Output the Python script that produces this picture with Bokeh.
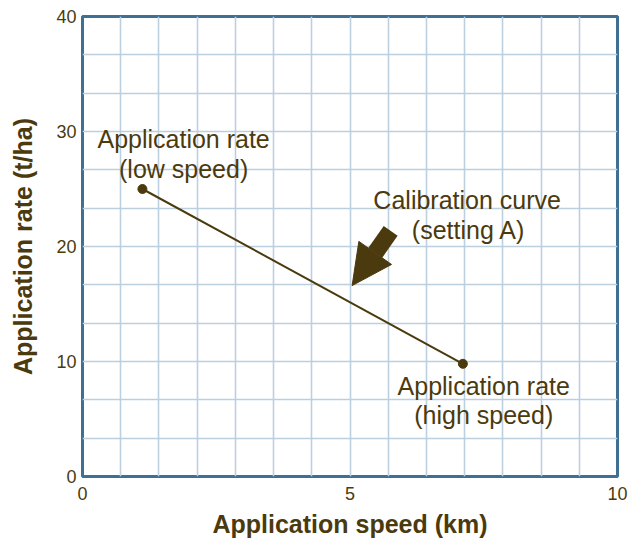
from bokeh.plotting import figure
from bokeh.models import FixedTicker, ColumnDataSource, Arrow, NormalHead
from bokeh.core.properties import value
from bokeh.embed import file_html
from bokeh.resources import INLINE

# data
speed = [1.12, 7.11]
rate = [25.0, 9.8]

x_ticks = [0, 5, 10]
y_ticks = [0, 10, 20, 30, 40]
x_grid_divisions = 14
y_grid_divisions = 12

label_texts = ["Application rate", "(low speed)", "Calibration curve", "(setting A)",
               "Application rate", "(high speed)"]
label_x = [1.89, 1.89, 7.19, 7.22, 7.5, 7.5]
label_y = [29.35, 26.75, 24.04, 21.43, 7.87, 5.35]

arrow_start = (5.76, 21.35)
arrow_end = (5.04, 16.6)

TEXT = "#4b3a0e"
FRAME = "#3f6f93"
GRID = "#bccfdf"
FONT = "Liberation Sans"

p = figure(width=630, height=540, frame_width=535, frame_height=460,
           x_range=(0, 10), y_range=(0, 40),
           output_backend="svg", toolbar_location=None,
           min_border_left=82, min_border_right=13, min_border_top=16, min_border_bottom=64)

p.outline_line_color = FRAME
p.outline_line_width = 3
p.background_fill_color = "white"
p.border_fill_color = "white"

p.xgrid.ticker = FixedTicker(ticks=[10 * k / x_grid_divisions for k in range(1, x_grid_divisions)])
p.ygrid.ticker = FixedTicker(ticks=[40 * k / y_grid_divisions for k in range(1, y_grid_divisions)])
for g in (p.xgrid, p.ygrid):
    g.grid_line_color = GRID
    g.grid_line_width = 1.6

for ax in (p.xaxis, p.yaxis):
    ax.axis_line_color = None
    ax.major_tick_line_color = None
    ax.minor_tick_line_color = None
    ax.major_tick_in = 0
    ax.major_tick_out = 0
    ax.minor_tick_in = 0
    ax.minor_tick_out = 0
    ax.major_label_text_font = FONT
    ax.major_label_text_font_size = "18px"
    ax.major_label_text_color = TEXT
    ax.axis_label_text_font = FONT
    ax.axis_label_text_font_size = "25px"
    ax.axis_label_text_font_style = "bold"
    ax.axis_label_text_color = TEXT

p.xaxis.ticker = FixedTicker(ticks=x_ticks)
p.yaxis.ticker = FixedTicker(ticks=y_ticks)
p.xaxis.major_label_standoff = 10
p.yaxis.major_label_standoff = 6
p.xaxis.axis_label = "Application speed (km)"
p.yaxis.axis_label = "Application rate (t/ha)"
p.xaxis.axis_label_standoff = 7
p.yaxis.axis_label_standoff = 16

src = ColumnDataSource(dict(x=speed, y=rate))
p.line("x", "y", source=src, line_color=TEXT, line_width=2)
p.scatter("x", "y", source=src, size=9, fill_color=TEXT, line_color=TEXT)

lab = ColumnDataSource(dict(x=label_x, y=label_y, t=label_texts))
p.text("x", "y", text="t", source=lab, text_align="center", text_baseline="middle",
       text_font=value(FONT), text_font_size="25px", text_color=TEXT)

p.add_layout(Arrow(end=NormalHead(size=40, fill_color=TEXT, line_color=TEXT),
                   x_start=arrow_start[0], y_start=arrow_start[1],
                   x_end=arrow_end[0], y_end=arrow_end[1],
                   line_color=TEXT, line_width=17))

open("out.html", "w").write(file_html(p, INLINE))
